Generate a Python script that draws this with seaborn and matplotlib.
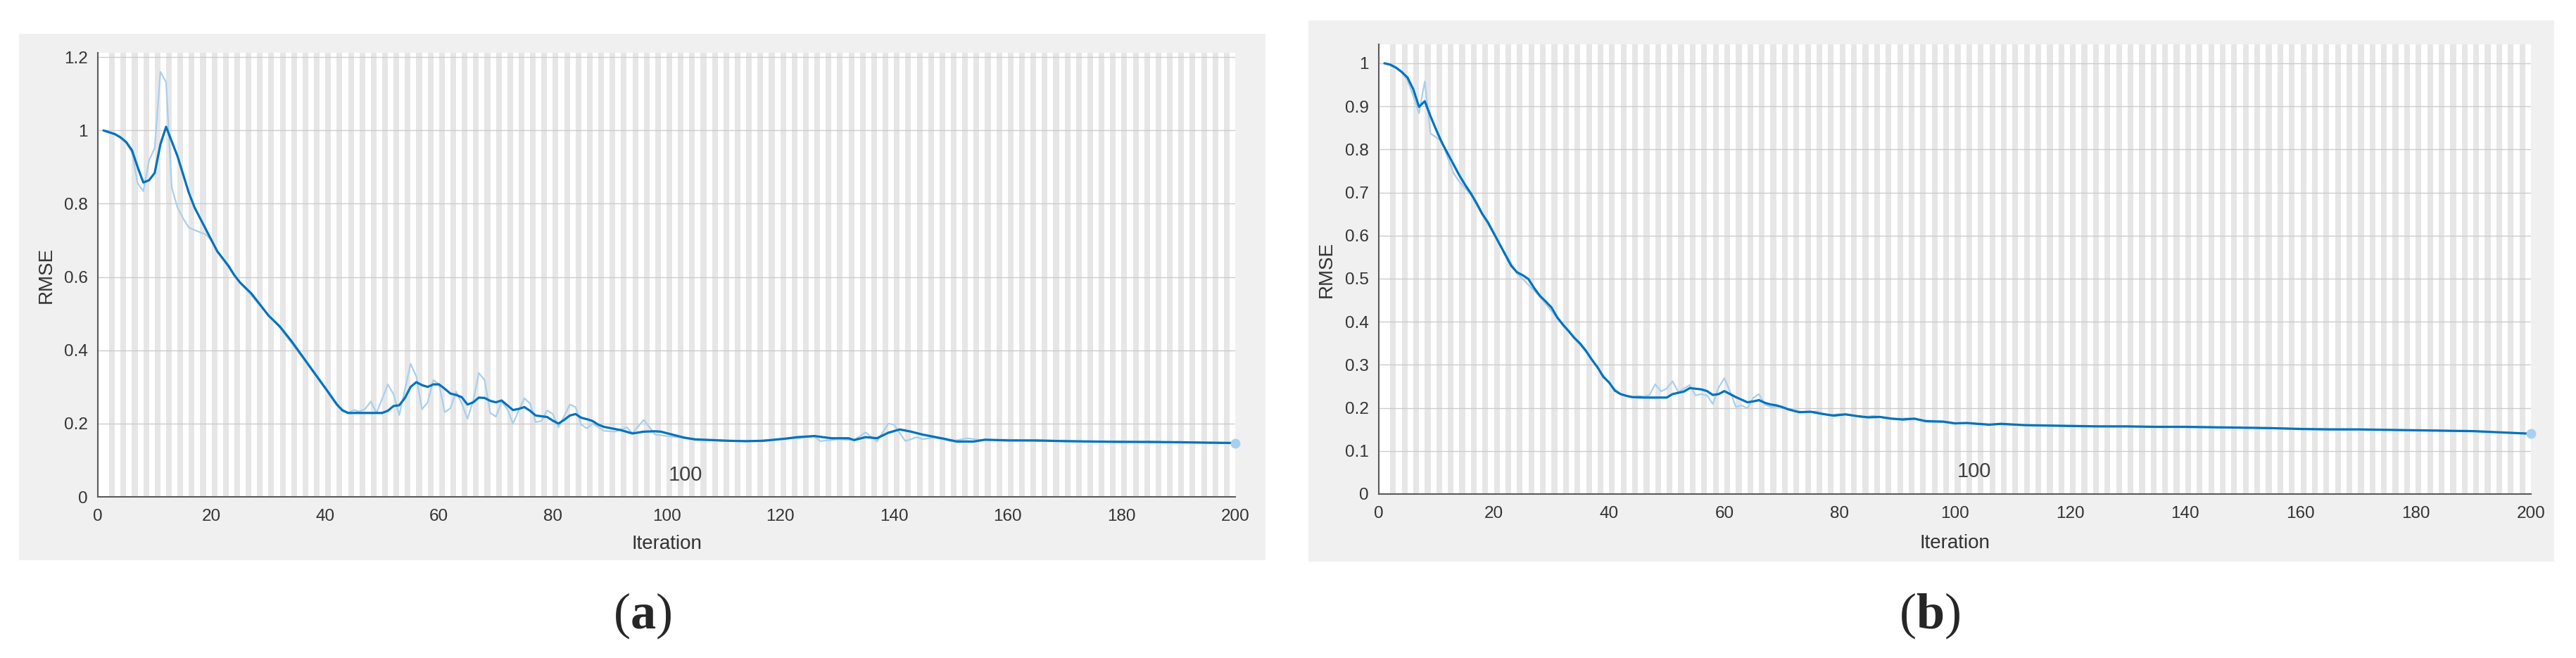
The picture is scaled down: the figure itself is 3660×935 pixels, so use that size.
import numpy as np
import matplotlib
matplotlib.use("Agg")
import matplotlib.pyplot as plt
import seaborn as sns
from matplotlib.patches import Rectangle
from matplotlib.ticker import FuncFormatter

# ---- data ----
# panel (a), smoothed RMSE
a_smooth_x = [1, 2, 3, 4, 5, 6, 7, 8, 9, 10, 11, 12, 13, 14, 15, 16, 17, 18, 19, 20,
              21, 22, 23, 24, 25, 26, 27, 28, 29, 30, 31, 32, 34, 36, 38, 40, 42, 43, 44,
              46, 48, 50, 51, 52, 53, 54, 55, 56, 57, 58, 59, 60, 61, 62, 63, 64, 65, 66,
              67, 68, 69, 70, 71, 72, 73, 74, 75, 76, 77, 78, 79, 80, 81, 82, 83, 84, 85,
              86, 87, 88, 89, 90, 92, 94, 96, 98, 99, 101, 103, 105, 108, 111, 114, 117,
              119, 121, 123, 126, 129, 132, 133, 135, 137, 139, 141, 143, 145, 147, 149,
              151, 154, 156, 160, 165, 170, 175, 180, 185, 190, 195, 200]
a_smooth_y = [1.0, 0.995, 0.99, 0.981, 0.968, 0.946, 0.90, 0.858, 0.864, 0.884, 0.962, 1.01,
              0.97, 0.93, 0.88, 0.83, 0.79, 0.76, 0.73, 0.70, 0.67, 0.65, 0.63, 0.605, 0.585,
              0.57, 0.555, 0.535, 0.515, 0.495, 0.48, 0.465, 0.426, 0.383, 0.34, 0.297, 0.253,
              0.236, 0.229, 0.229, 0.229, 0.229, 0.235, 0.248, 0.25, 0.27, 0.30, 0.313, 0.305,
              0.30, 0.307, 0.307, 0.295, 0.282, 0.278, 0.272, 0.252, 0.258, 0.271, 0.27, 0.262,
              0.258, 0.263, 0.25, 0.237, 0.24, 0.245, 0.235, 0.222, 0.22, 0.218, 0.208, 0.20,
              0.21, 0.222, 0.226, 0.216, 0.212, 0.207, 0.197, 0.191, 0.188, 0.182, 0.173,
              0.178, 0.179, 0.178, 0.17, 0.162, 0.157, 0.155, 0.153, 0.152, 0.153, 0.156,
              0.159, 0.163, 0.166, 0.16, 0.16, 0.155, 0.163, 0.16, 0.175, 0.184, 0.178, 0.17,
              0.164, 0.158, 0.151, 0.151, 0.156, 0.154, 0.154, 0.152, 0.151, 0.15, 0.15,
              0.149, 0.148, 0.147]
# panel (a), raw RMSE
a_raw_x = [1, 2, 3, 4, 5, 6, 7, 8, 9, 10, 11, 12, 13, 14, 15, 16, 17, 18, 19, 20, 21,
           24, 28, 32, 36, 40, 42, 44, 45, 46, 47, 48, 49, 51, 52, 53, 55, 56, 57, 58, 59,
           60, 61, 62, 63, 64, 65, 66, 67, 68, 69, 70, 71, 72, 73, 74, 75, 76, 77, 78, 79,
           80, 81, 82, 83, 84, 85, 86, 87, 88, 89, 91, 93, 94, 96, 98, 100, 102, 105, 110,
           115, 120, 123, 126, 127, 130, 133, 135, 137, 139, 140, 142, 144, 145, 147, 150,
           153, 155, 160, 165, 170, 175, 180, 185, 190, 195, 200]
a_raw_y = [1.0, 0.994, 0.989, 0.98, 0.966, 0.94, 0.856, 0.834, 0.918, 0.952, 1.16, 1.132,
           0.844, 0.79, 0.76, 0.735, 0.728, 0.722, 0.716, 0.70, 0.672, 0.603, 0.532, 0.462,
           0.38, 0.295, 0.25, 0.229, 0.237, 0.233, 0.24, 0.26, 0.229, 0.307, 0.28, 0.223,
           0.363, 0.328, 0.239, 0.258, 0.319, 0.307, 0.231, 0.242, 0.287, 0.255, 0.213,
           0.262, 0.338, 0.319, 0.229, 0.219, 0.26, 0.24, 0.20, 0.235, 0.269, 0.255, 0.204,
           0.207, 0.236, 0.226, 0.19, 0.22, 0.252, 0.245, 0.197, 0.187, 0.20, 0.19, 0.18,
           0.178, 0.19, 0.174, 0.21, 0.17, 0.166, 0.163, 0.155, 0.153, 0.152, 0.158, 0.16,
           0.165, 0.152, 0.157, 0.155, 0.176, 0.151, 0.20, 0.197, 0.152, 0.163, 0.157, 0.162,
           0.152, 0.16, 0.155, 0.156, 0.152, 0.154, 0.15, 0.152, 0.148, 0.15, 0.147, 0.146]

# panel (b), smoothed RMSE
b_smooth_x = [1, 2, 3, 4, 5, 6, 7, 8, 9, 10, 11, 12, 13, 14, 15, 16, 17, 18, 19, 20, 21,
              22, 23, 24, 25, 26, 27, 28, 29, 30, 31, 32, 33, 34, 35, 36, 37, 38, 39, 40, 41,
              42, 43, 44, 46, 48, 50, 51, 53, 54, 56, 57, 58, 59, 60, 61, 62, 63, 64, 65, 66,
              67, 68, 69, 70, 71, 73, 75, 77, 79, 81, 83, 85, 87, 89, 91, 93, 95, 98, 100,
              102, 106, 108, 112, 116, 120, 125, 130, 135, 140, 145, 150, 155, 160, 165, 170,
              175, 180, 185, 190, 195, 200]
b_smooth_y = [1.0, 0.997, 0.99, 0.98, 0.967, 0.94, 0.899, 0.912, 0.877, 0.845, 0.815, 0.79,
              0.765, 0.74, 0.718, 0.698, 0.675, 0.65, 0.63, 0.605, 0.58, 0.555, 0.53, 0.515,
              0.508, 0.499, 0.478, 0.46, 0.447, 0.433, 0.41, 0.393, 0.378, 0.362, 0.349, 0.332,
              0.312, 0.294, 0.272, 0.259, 0.24, 0.232, 0.228, 0.225, 0.224, 0.224, 0.224,
              0.232, 0.238, 0.246, 0.243, 0.239, 0.23, 0.232, 0.239, 0.232, 0.225, 0.219,
              0.213, 0.215, 0.218, 0.212, 0.208, 0.206, 0.202, 0.197, 0.19, 0.191, 0.186,
              0.182, 0.185, 0.181, 0.178, 0.179, 0.175, 0.173, 0.175, 0.169, 0.168, 0.164,
              0.165, 0.161, 0.163, 0.16, 0.159, 0.158, 0.157, 0.157, 0.156, 0.156, 0.155,
              0.154, 0.153, 0.151, 0.15, 0.15, 0.149, 0.148, 0.147, 0.146, 0.143, 0.14]
# panel (b), raw RMSE
b_raw_x = [1, 2, 3, 4, 5, 6, 7, 8, 9, 10, 11, 12, 13, 14, 15, 16, 18, 20, 24, 28, 32, 36,
           40, 42, 44, 45, 46, 47, 48, 49, 50, 51, 52, 53, 54, 55, 56, 57, 58, 59, 60, 61,
           62, 63, 64, 65, 66, 67, 68, 70, 72, 74, 76, 78, 80, 82, 84, 86, 88, 90, 92, 94,
           96, 98, 100, 105, 110, 115, 120, 130, 140, 150, 160, 170, 180, 190, 200]
b_raw_y = [1.0, 0.996, 0.989, 0.979, 0.96, 0.924, 0.884, 0.958, 0.837, 0.828, 0.818, 0.78,
           0.745, 0.725, 0.71, 0.695, 0.648, 0.603, 0.513, 0.458, 0.391, 0.33, 0.257, 0.231,
           0.225, 0.228, 0.226, 0.23, 0.255, 0.238, 0.245, 0.262, 0.237, 0.245, 0.253, 0.229,
           0.232, 0.229, 0.209, 0.247, 0.269, 0.238, 0.202, 0.206, 0.199, 0.223, 0.232,
           0.208, 0.202, 0.203, 0.194, 0.19, 0.192, 0.183, 0.186, 0.183, 0.178, 0.182,
           0.176, 0.175, 0.176, 0.172, 0.17, 0.169, 0.165, 0.162, 0.161, 0.159, 0.159,
           0.157, 0.155, 0.154, 0.152, 0.15, 0.148, 0.146, 0.14]

x_ticks = list(range(0, 201, 20))
a_yticks = [0, 0.2, 0.4, 0.6, 0.8, 1.0, 1.2]
b_yticks = [0, 0.1, 0.2, 0.3, 0.4, 0.5, 0.6, 0.7, 0.8, 0.9, 1.0]
n_iter = 200
mid_label = "100"

SMOOTH = "#0072BD"
RAW = "#a9cfec"
DARK = "#333333"

sns.set_style("white")
plt.rcParams["font.family"] = ["Liberation Sans", "DejaVu Sans"]
plt.rcParams["mathtext.fontset"] = "custom"
plt.rcParams["mathtext.rm"] = "Liberation Serif"
plt.rcParams["mathtext.bf"] = "Liberation Serif:bold"

fig = plt.figure(figsize=(36.6, 9.35), dpi=100)

# light grey panels behind each plot (MATLAB figure background)
for box in [(0.0074, 0.1487, 0.4839, 0.80), (0.5079, 0.1465, 0.4836, 0.8225)]:
    fig.patches.append(Rectangle(box[:2], box[2], box[3], transform=fig.transFigure,
                                 facecolor="#f0f0f0", edgecolor="none", zorder=-5))

ax1 = fig.add_axes([0.03798, 0.2449, 0.44153, 0.6749])
ax2 = fig.add_axes([0.5352, 0.2492, 0.4473, 0.6834])


def draw_panel(ax, sx, sy, rx, ry, ytop, yticks, text_xy):
    ax.set_facecolor("white")
    # alternate epoch shading
    for e in range(2, n_iter, 2):
        ax.axvspan(e, e + 1, color="#e6e6e6", lw=0, zorder=0)
    sns.lineplot(x=rx, y=ry, ax=ax, color=RAW, lw=1.6, zorder=3)
    sns.lineplot(x=sx, y=sy, ax=ax, color=SMOOTH, lw=2.3, zorder=4)
    ax.plot([rx[-1]], [ry[-1]], "o", ms=10, color=RAW, mec="none", zorder=5, clip_on=False)
    ax.set_xlim(0, n_iter)
    ax.set_ylim(0, ytop)
    ax.set_xticks(x_ticks)
    ax.set_yticks(yticks)
    ax.yaxis.set_major_formatter(FuncFormatter(lambda v, p: "%g" % round(v, 2)))
    ax.set_axisbelow(True)
    ax.grid(axis="y", color="#cccccc", lw=1.0)
    ax.grid(axis="x", visible=False)
    for s in ["top", "right"]:
        ax.spines[s].set_visible(False)
    for s in ["left", "bottom"]:
        ax.spines[s].set_color("#5a5a5a")
        ax.spines[s].set_linewidth(1.5)
    ax.tick_params(axis="both", direction="in", length=11, width=1.2, color="#404040",
                   labelcolor=DARK, labelsize=17.5)
    ax.tick_params(axis="x", pad=12)
    ax.tick_params(axis="y", pad=10)
    ax.set_xlabel("Iteration", fontsize=20, color=DARK, va="center")
    ax.set_ylabel("RMSE", fontsize=20, color=DARK, va="center")
    ax.text(text_xy[0], text_xy[1], mid_label, fontsize=21, color="#404040",
            ha="left", va="center", zorder=6)


draw_panel(ax1, a_smooth_x, a_smooth_y, a_raw_x, a_raw_y, 1.212, a_yticks, (100.3, 0.06))
draw_panel(ax2, b_smooth_x, b_smooth_y, b_raw_x, b_raw_y, 1.044, b_yticks, (100.4, 0.052))
ax1.xaxis.set_label_coords(0.5, -0.106)
ax1.yaxis.set_label_coords(-0.0452, 0.5)
ax2.xaxis.set_label_coords(0.5, -0.1095)
ax2.yaxis.set_label_coords(-0.0452, 0.5)

fig.text(913 / 3660, 1 - 875 / 935, r"($\mathbf{a}$)", fontsize=52, ha="center", va="center",
         family="Liberation Serif")
fig.text(2742 / 3660, 1 - 875 / 935, r"($\mathbf{b}$)", fontsize=52, ha="center", va="center",
         family="Liberation Serif")

fig.savefig("out.png", dpi=100)
